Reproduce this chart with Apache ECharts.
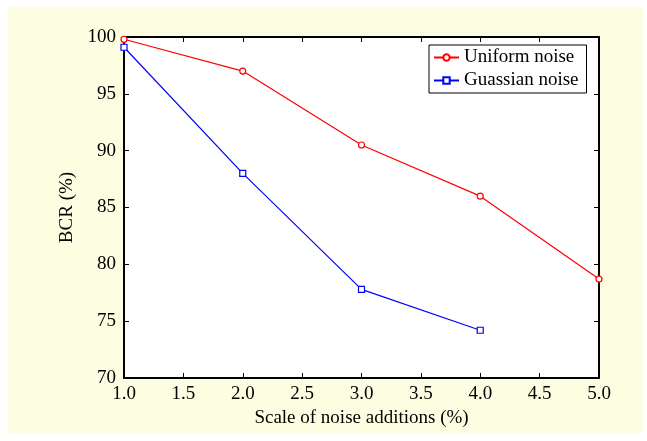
<!DOCTYPE html>
<html>
<head>
    <meta charset="utf-8">
    <script src="https://cdn.jsdelivr.net/npm/echarts@6/dist/echarts.min.js"></script>
    <style>
        body { margin: 0; background: #fff; }
    </style>
</head>
<body>
    <div id="main" style="width: 647px;height:441px;"></div>
	<script type="text/javascript">
        // data
        var scales = [1.0, 2.0, 3.0, 4.0, 5.0];
        var uniformNoise = [99.8, 97.0, 90.5, 86.0, 78.7];
        var gaussNoise = [99.1, 88.0, 77.8, 74.2];

        function pairs(xs, ys) {
            var out = [];
            for (var i = 0; i < ys.length; i++) out.push([xs[i], ys[i]]);
            return out;
        }

        var font = 'Liberation Serif';
        var fs = 19;
        var myChart = echarts.init(document.getElementById('main'));
        myChart.setOption({
            animation: false,
            backgroundColor: 'transparent',
            graphic: [{
                type: 'rect',
                z: -10,
                shape: { x: 8, y: 7, width: 635, height: 426 },
                style: { fill: '#fdfde2' }
            }],
            grid: {
                left: 124, right: 48, top: 37, bottom: 63,
                show: true,
                backgroundColor: '#fff',
                borderWidth: 0
            },
            legend: {
                orient: 'vertical',
                left: 429,
                top: 45,
                padding: [3, 8, 3, 4],
                itemGap: 4,
                itemWidth: 25,
                itemHeight: 8,
                backgroundColor: '#fff',
                borderColor: '#000',
                borderWidth: 1,
                borderRadius: 0,
                textStyle: { fontFamily: font, fontSize: fs, color: '#000' },
                data: ['Uniform noise', 'Guassian noise']
            },
            xAxis: [{
                type: 'value',
                min: 1, max: 5, interval: 0.5,
                name: 'Scale of noise additions (%)',
                nameLocation: 'middle',
                nameGap: 24,
                nameTextStyle: { fontFamily: font, fontSize: fs, color: '#000' },
                axisLine: { lineStyle: { color: '#000', width: 2 } },
                axisTick: { inside: true, length: 5, lineStyle: { color: '#000', width: 1 } },
                axisLabel: { fontFamily: font, fontSize: fs, color: '#000', margin: 7,
                    formatter: function (v) { return v.toFixed(1); } },
                splitLine: { show: false }
            }, {
                type: 'value', position: 'top',
                min: 1, max: 5, interval: 0.5,
                axisLine: { lineStyle: { color: '#000', width: 2 } },
                axisTick: { inside: true, length: 5, lineStyle: { color: '#000', width: 1 } },
                axisLabel: { show: false },
                splitLine: { show: false }
            }],
            yAxis: [{
                type: 'value',
                min: 70, max: 100, interval: 5,
                name: 'BCR (%)',
                nameLocation: 'middle',
                nameGap: 40,
                nameTextStyle: { fontFamily: font, fontSize: fs, color: '#000' },
                axisLine: { show: true, lineStyle: { color: '#000', width: 2 } },
                axisTick: { show: true, inside: true, length: 5, lineStyle: { color: '#000', width: 1 } },
                axisLabel: { fontFamily: font, fontSize: fs, color: '#000', margin: 8 },
                splitLine: { show: false }
            }, {
                type: 'value', position: 'right',
                min: 70, max: 100, interval: 5,
                axisLine: { show: true, lineStyle: { color: '#000', width: 2 } },
                axisTick: { show: true, inside: true, length: 5, lineStyle: { color: '#000', width: 1 } },
                axisLabel: { show: false },
                splitLine: { show: false }
            }],
            series: [{
                name: 'Uniform noise',
                type: 'line',
                data: pairs(scales, uniformNoise),
                symbol: 'circle',
                symbolSize: 6,
                showAllSymbol: true,
                color: '#ff0000',
                lineStyle: { width: 1.2, color: '#ff0000' },
                itemStyle: { color: '#fff', borderColor: '#ff0000', borderWidth: 1.2 }
            }, {
                name: 'Guassian noise',
                type: 'line',
                data: pairs(scales, gaussNoise),
                symbol: 'rect',
                symbolSize: 6,
                showAllSymbol: true,
                color: '#0000ff',
                lineStyle: { width: 1.2, color: '#0000ff' },
                itemStyle: { color: '#fff', borderColor: '#0000ff', borderWidth: 1.2 }
            }]
        });
    </script>
</body>
</html>
